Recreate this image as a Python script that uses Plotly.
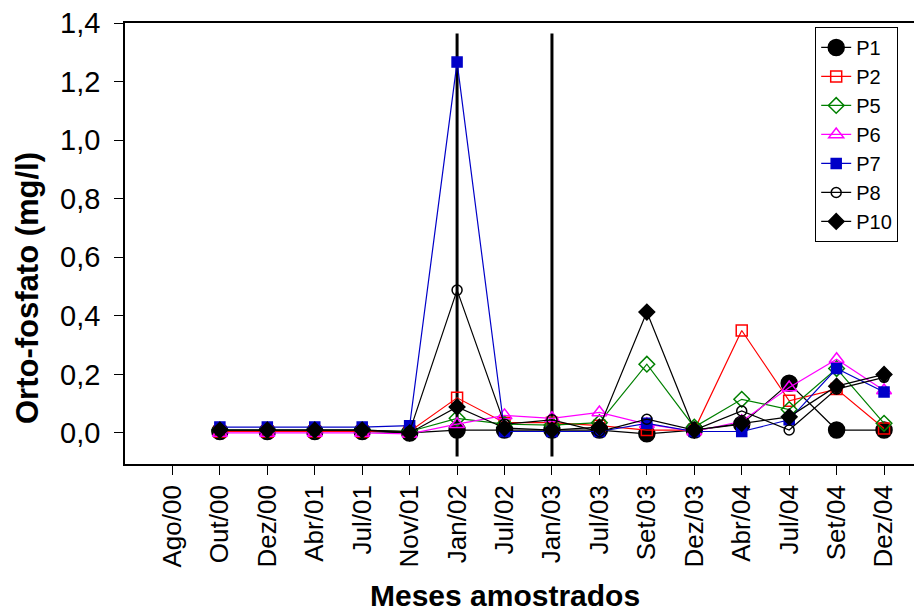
import plotly.graph_objects as go

months = ["Ago/00", "Out/00", "Dez/00", "Abr/01", "Jul/01", "Nov/01", "Jan/02", "Jul/02",
          "Jan/03", "Jul/03", "Set/03", "Dez/03", "Abr/04", "Jul/04", "Set/04", "Dez/04"]
sampled = months[1:]

P1 = [0.005, 0.005, 0.005, 0.005, 0.0, 0.01, 0.01, 0.01, 0.01, -0.003, 0.01, 0.03, 0.17, 0.01, 0.01]
P2 = [0.005, 0.005, 0.005, 0.005, 0.005, 0.12, 0.035, 0.035, 0.025, 0.01, 0.01, 0.35, 0.11, 0.15, 0.015]
P5 = [0.01, 0.01, 0.01, 0.01, 0.005, 0.05, 0.03, 0.027, 0.035, 0.235, 0.02, 0.115, 0.08, 0.22, 0.033]
P6 = [0.0, 0.0, 0.0, 0.0, -0.003, 0.03, 0.06, 0.05, 0.07, 0.03, 0.005, 0.04, 0.155, 0.252, 0.145]
P7 = [0.02, 0.02, 0.02, 0.02, 0.025, 1.267, 0.005, 0.005, 0.005, 0.033, 0.005, 0.005, 0.045, 0.22, 0.14]
P8 = [0.01, 0.01, 0.01, 0.01, 0.005, 0.488, 0.03, 0.045, 0.005, 0.047, 0.01, 0.075, 0.01, 0.15, 0.19]
P10 = [0.01, 0.01, 0.01, 0.01, 0.0, 0.089, 0.017, 0.01, 0.02, 0.413, 0.01, 0.033, 0.055, 0.16, 0.2]

series_names = ["P1", "P2", "P5", "P6", "P7", "P8", "P10"]
series_values = [P1, P2, P5, P6, P7, P8, P10]

divider_months = ["Jan/02", "Jan/03"]
divider_span = [-0.08, 1.365]

yticks = [0.0, 0.2, 0.4, 0.6, 0.8, 1.0, 1.2, 1.4]
ytick_labels = ["0,0", "0,2", "0,4", "0,6", "0,8", "1,0", "1,2", "1,4"]

x_title = "Meses amostrados"
y_title = "Orto-fosfato (mg/l)"

styles = {
    "P1": dict(color="black", symbol="circle", size=16),
    "P2": dict(color="#FF0000", symbol="square-open", size=11),
    "P5": dict(color="#008000", symbol="diamond-open", size=12),
    "P6": dict(color="#FF00FF", symbol="triangle-up-open", size=13),
    "P7": dict(color="#0000C8", symbol="square", size=10),
    "P8": dict(color="black", symbol="circle-open", size=10),
    "P10": dict(color="black", symbol="diamond", size=12),
}

FONT = "Arial, Liberation Sans, sans-serif"

fig = go.Figure()

for m in divider_months:
    fig.add_trace(go.Scatter(x=[m, m], y=divider_span, mode="lines",
                             line=dict(color="black", width=3), showlegend=False,
                             hoverinfo="skip"))

for name, vals in zip(series_names, series_values):
    s = styles[name]
    fig.add_trace(go.Scatter(
        x=sampled, y=vals, mode="lines+markers", name=name,
        line=dict(color=s["color"], width=1.2),
        marker=dict(symbol=s["symbol"], size=s["size"], color=s["color"],
                    line=dict(color=s["color"], width=1.5)),
    ))

fig.add_annotation(text="<b>" + x_title + "</b>", xref="paper", yref="paper",
                   x=0.477, y=-0.298, xanchor="center", yanchor="middle",
                   showarrow=False, font=dict(size=30, family=FONT, color="black"))
fig.add_annotation(text="<b>" + y_title + "</b>", xref="paper", yref="paper",
                   x=-0.123, y=0.399, xanchor="center", yanchor="middle", textangle=-90,
                   showarrow=False, font=dict(size=31, family=FONT, color="black"))

fig.update_layout(
    width=914, height=607,
    margin=dict(l=117, r=0, t=15, b=151),
    paper_bgcolor="white", plot_bgcolor="white",
    font=dict(family=FONT, color="black"),
    showlegend=True,
    legend=dict(x=0.866, y=0.991, xanchor="left", yanchor="top",
                bordercolor="black", borderwidth=1, bgcolor="white",
                font=dict(size=20, family=FONT), tracegroupgap=0),
    xaxis=dict(type="category", categoryorder="array", categoryarray=months,
               range=[-1, 15.8], tickvals=months, ticktext=months,
               tickangle=-90, tickfont=dict(size=26, family=FONT),
               showline=True, linecolor="black", linewidth=1.5, mirror=True,
               ticks="outside", ticklen=9, tickwidth=1.2, tickcolor="black",
               showgrid=False, zeroline=False, automargin=False,
               ticklabeloverflow="allow"),
    yaxis=dict(range=[-0.106, 1.4005], tickvals=yticks, ticktext=ytick_labels,
               tickfont=dict(size=29, family=FONT), ticklabelstandoff=8,
               showline=True, linecolor="black", linewidth=1.5, mirror=False,
               ticks="outside", ticklen=9, tickwidth=1.2, tickcolor="black",
               showgrid=False, zeroline=False, automargin=False,
               ticklabeloverflow="allow"),
)

fig.write_html("out.html")
